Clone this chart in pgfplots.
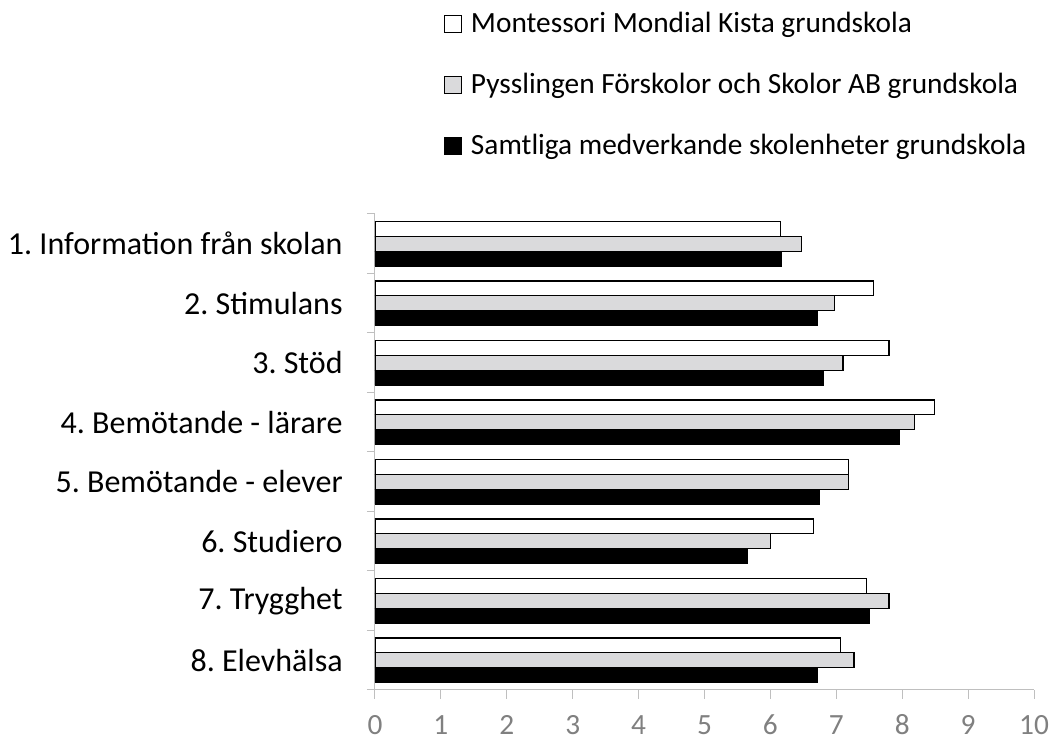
\documentclass[border=0pt]{standalone}
\usepackage{pgfplots}
\usepackage{pgfplotstable}
\pgfplotsset{compat=1.18}
\usepackage{fontspec}
\setmainfont{Carlito}
\frenchspacing
\definecolor{barGray}{RGB}{218,218,220}
\definecolor{axGray}{RGB}{191,191,191}
\definecolor{tickText}{RGB}{128,128,128}

\pgfplotstableread{
y mont pyss samt
8 6.15 6.47 6.16
7 7.56 6.97 6.72
6 7.80 7.10 6.80
5 8.49 8.19 7.95
4 7.19 7.19 6.74
3 6.65 6.00 5.65
2 7.46 7.80 7.50
1 7.06 7.27 6.71
}\datatab

\begin{document}
\begin{tikzpicture}
\useasboundingbox (-281.25pt,-38.25pt) rectangle (516pt,517.5pt);
\begin{axis}[
  at={(0pt,0pt)}, anchor=south west,
  scale only axis, width=494.25pt, height=357pt,
  xbar, bar width=0.25,
  xmin=0, xmax=10, ymin=0.5, ymax=8.5,
  xtick={0,1,...,10},
  ytick={1,...,8},
  yticklabels={8. Elevhälsa,7. Trygghet,6. Studiero,5. Bemötande - elever,4. Bemötande - lärare,3. Stöd,2. Stimulans,1. Information från skolan},
  minor ytick={0.5,1.5,...,8.5},
  axis x line*=bottom, axis y line*=left,
  x axis line style={axGray, line width=0.75pt, -},
  y axis line style={axGray, line width=0.75pt, -},
  tick align=outside,
  major tick length=6.75pt,
  minor tick length=6pt,
  major y tick style={draw=none},
  minor y tick style={axGray, line width=0.75pt},
  major x tick style={axGray, line width=0.75pt},
  /pgf/number format/assume math mode=true,
  xticklabel style={font=\fontsize{22}{26}\selectfont, text=tickText, anchor=north, inner sep=0pt, text height=14pt, text depth=0pt, yshift=-12.5pt},
  yticklabel style={font=\fontsize{24}{28}\selectfont, text=black, xshift=-14pt},
  legend style={at={(0.1047,1.43)}, anchor=north west, draw=none, fill=none,
    inner sep=0pt, font=\fontsize{22}{26}\selectfont, row sep=25pt,
    cells={anchor=west}},
  legend cell align=left,
]
\addplot[draw=black, fill=white, line width=1pt, bar shift=0.25,
  legend image code/.code={\draw[draw=black, fill=white, line width=0.6pt] (0pt,-6.4pt) rectangle (12.75pt,6.4pt); \path (17.25pt,0pt);}]
  table[x=mont, y=y] {\datatab};
\addlegendentry{Montessori Mondial Kista grundskola}
\addplot[draw=black, fill=barGray, line width=1pt, bar shift=0,
  legend image code/.code={\draw[draw=black, fill=barGray, line width=0.6pt] (0pt,-6.4pt) rectangle (12.75pt,6.4pt); \path (17.25pt,0pt);}]
  table[x=pyss, y=y] {\datatab};
\addlegendentry{Pysslingen Förskolor och Skolor AB grundskola}
\addplot[draw=black, fill=black, line width=0.6pt, bar shift=-0.25,
  legend image code/.code={\draw[draw=black, fill=black, line width=0.6pt] (0pt,-6.4pt) rectangle (12.75pt,6.4pt); \path (17.25pt,0pt);}]
  table[x=samt, y=y] {\datatab};
\addlegendentry{Samtliga medverkande skolenheter grundskola}
\end{axis}
\end{tikzpicture}
\end{document}
